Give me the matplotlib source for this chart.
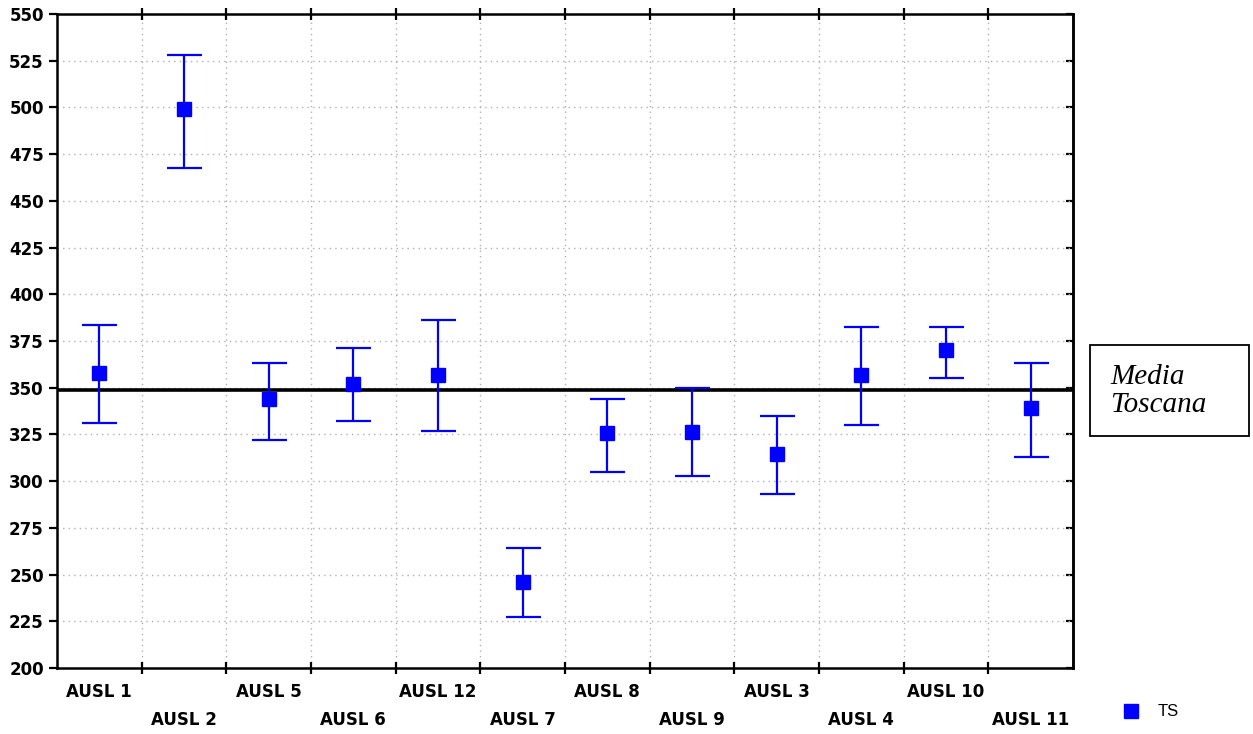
import numpy as np
import matplotlib
matplotlib.use('Agg')
import matplotlib.pyplot as plt
from matplotlib.patches import Rectangle

# values
labels = ['AUSL 1', 'AUSL 2', 'AUSL 5', 'AUSL 6', 'AUSL 12', 'AUSL 7',
          'AUSL 8', 'AUSL 9', 'AUSL 3', 'AUSL 4', 'AUSL 10', 'AUSL 11']
means = [358, 499, 344, 352, 357, 246, 326, 326.5, 314.5, 357, 370, 339]
upper = [383.6, 528, 363.3, 371.3, 386.3, 264.3, 344, 350, 335, 382.5, 382.5, 363.3]
lower = [331.2, 467.6, 322, 332.2, 327, 227.4, 305, 302.8, 293.2, 330.1, 355.2, 313]
media_toscana = 348.8

fig = plt.figure(figsize=(12.53, 7.34), dpi=100)
ax = fig.add_axes([57 / 1253, 1 - 668 / 734, 1016 / 1253, 654 / 734])

x = np.arange(len(labels))
m = np.array(means)
err = [m - np.array(lower), np.array(upper) - m]
ax.errorbar(x, m, yerr=err, fmt='none', ecolor='#0000ff', elinewidth=1.6,
            capsize=12.6, capthick=1.6, zorder=3)
ax.plot(x, m, 's', color='#0000ff', markersize=10.5, label='TS', zorder=4)
ax.axhline(media_toscana, color='black', lw=2.6, zorder=2)

ax.set_xlim(-0.5, len(labels) - 0.5)
ax.set_ylim(200, 550)
ax.set_yticks(np.arange(200, 551, 25))
ax.set_xticks(x[:-1] + 0.5)
ax.set_xticklabels([])
ax.grid(True, color='#b0b0b0', linestyle=(0, (1, 3)), lw=1)

for s in ax.spines.values():
    s.set_linewidth(1.8)
ax.tick_params(axis='y', direction='out', length=6, width=1.6, labelsize=12)
ax.tick_params(axis='x', direction='inout', length=8, width=1.6, top=True)
for lbl in ax.get_yticklabels():
    lbl.set_fontweight('bold')
    lbl.set_family('DejaVu Sans')

# inward ticks on the right side
sec = ax.secondary_yaxis('right')
sec.set_yticks(np.arange(200, 551, 25))
sec.tick_params(direction='in', length=5, width=1.6, labelright=False)
sec.spines['right'].set_linewidth(1.8)

# category labels alternate over two rows
for i, name in enumerate(labels):
    yoff = -0.037 if i % 2 == 0 else -0.080
    ax.text(i, yoff, name, transform=ax.get_xaxis_transform(), ha='center',
            va='center', fontsize=12, fontweight='bold', family='DejaVu Sans')

# "Media Toscana" box
fig.patches.append(Rectangle((1090 / 1253, 1 - 436 / 734), 159 / 1253, 91 / 734,
                             transform=fig.transFigure, fc='white', ec='black',
                             lw=1.3))
fig.text(1110 / 1253, 1 - 391 / 734, 'Media\nToscana', family='Liberation Serif',
         style='italic', fontsize=21, va='center', ha='left', linespacing=1.1)

fig.legend(loc='center left', bbox_to_anchor=(1106 / 1253, 1 - 712 / 734),
           frameon=False, prop={'family': 'Liberation Sans', 'size': 12},
           handletextpad=1.0, handlelength=1.2)

fig.savefig('out.png', dpi=100)
